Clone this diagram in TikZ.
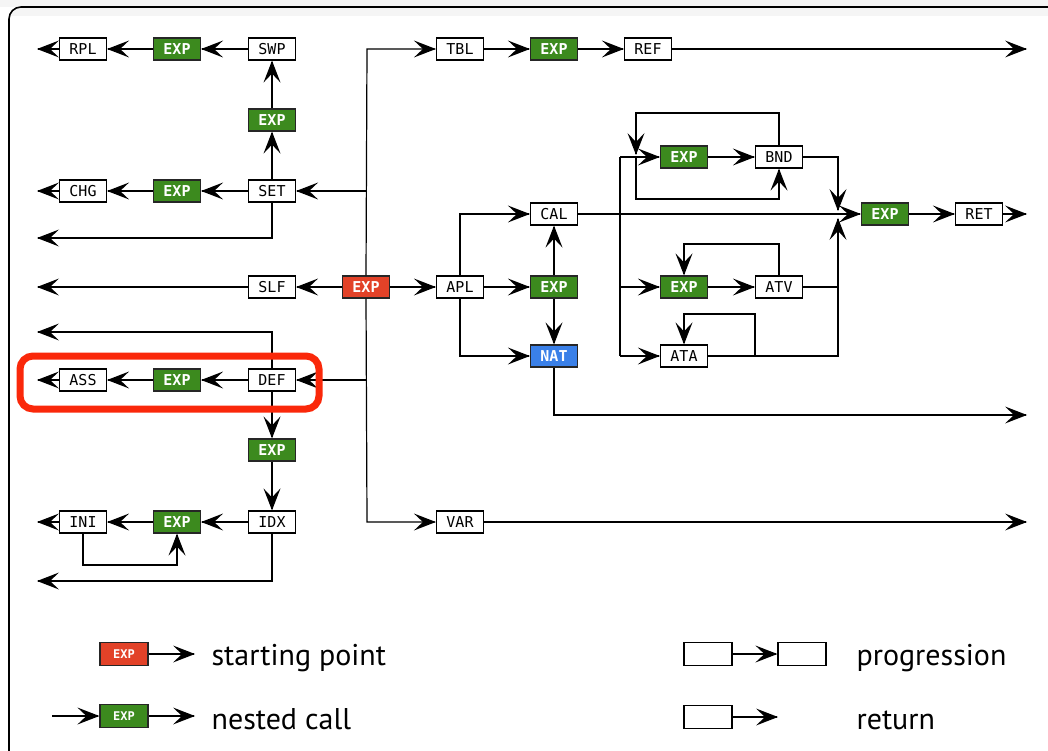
\documentclass[tikz,border=0pt]{standalone}
\usepackage{fontspec}
\usetikzlibrary{arrows.meta}
\newfontfamily\boxfont{DejaVu Sans Mono}
\newfontfamily\legfont{PT Sans}
\definecolor{expgreen}{RGB}{60,138,30}
\definecolor{expred}{RGB}{226,66,40}
\definecolor{expblue}{RGB}{58,128,232}
\definecolor{hlred}{RGB}{250,40,10}
\pgfarrowsdeclare{bighead}{bighead}
{\pgfarrowsleftextend{-21pt}\pgfarrowsrightextend{1pt}}
{\pgfsetdash{}{0pt}\pgfsetmiterjoin
 \pgfpathmoveto{\pgfpoint{1pt}{0pt}}
 \pgfpathlineto{\pgfpoint{-21pt}{8.5pt}}
 \pgfpathlineto{\pgfpoint{-12pt}{0pt}}
 \pgfpathlineto{\pgfpoint{-21pt}{-8.5pt}}
 \pgfpathclose
 \pgfusepathqfill}
\begin{document}
\begin{tikzpicture}[x=1pt,y=-1pt,
  arr/.style={-bighead},
  line width=1.2pt,
  fbox/.style={draw=black, fill=white, line width=1.2pt, minimum width=47pt,
    minimum height=22pt, inner sep=0pt, font=\boxfont\fontsize{15}{15}\selectfont},
  ebox/.style={fbox, fill=expgreen, draw=black!85, text=white,
    font=\boxfont\bfseries\fontsize{15}{15}\selectfont},
  rbox/.style={ebox, fill=expred},
  bbox/.style={ebox, fill=expblue},
  small/.style={minimum width=48pt, minimum height=23pt,
    font=\boxfont\bfseries\fontsize{12}{12}\selectfont},
  legtext/.style={anchor=base west, inner sep=0pt, font=\legfont\fontsize{30}{30}\selectfont},
]
\useasboundingbox (0,0) rectangle (1048,751);
% window frame
\fill[gray!8] (0,0) rectangle (1048,7);
\begin{scope}
  \clip[rounded corners=12pt] (9,7) rectangle (1070,765);
  \fill[gray!8] (0,0) rectangle (1048,16);
\end{scope}
\draw[line width=1.6pt, rounded corners=12pt] (9,7) rectangle (1070,765);

% ---------- nodes ----------
\node[fbox] (RPL) at (83,49) {RPL};
\node[ebox] (EXPa) at (177,49) {EXP};
\node[fbox] (SWP) at (272,49) {SWP};
\node[ebox] (EXPb) at (272,120) {EXP};
\node[fbox] (CHG) at (83,191) {CHG};
\node[ebox] (EXPc) at (177,191) {EXP};
\node[fbox] (SET) at (272,191) {SET};
\node[fbox] (SLF) at (272,287) {SLF};
\node[rbox] (EXPr) at (366,287) {EXP};
\node[fbox] (ASS) at (83,380) {ASS};
\node[ebox] (EXPd) at (177,380) {EXP};
\node[fbox] (DEF) at (272,380) {DEF};
\node[ebox] (EXPe) at (272,450) {EXP};
\node[fbox] (INI) at (83,522) {INI};
\node[ebox] (EXPf) at (177,522) {EXP};
\node[fbox] (IDX) at (272,522) {IDX};

\node[fbox] (TBL) at (460,49) {TBL};
\node[ebox] (EXPg) at (554,49) {EXP};
\node[fbox] (REF) at (648,49) {REF};
\node[fbox] (APL) at (460,287) {APL};
\node[ebox] (EXPh) at (554,287) {EXP};
\node[fbox] (CAL) at (554,214) {CAL};
\node[bbox] (NAT) at (554,356) {NAT};
\node[fbox] (VAR) at (460,522) {VAR};

\node[ebox] (EXPi) at (684,157) {EXP};
\node[fbox] (BND) at (779,157) {BND};
\node[ebox] (EXPj) at (684,287) {EXP};
\node[fbox] (ATV) at (779,287) {ATV};
\node[fbox] (ATA) at (684,356) {ATA};
\node[ebox] (EXPk) at (885,214) {EXP};
\node[fbox] (RET) at (979,214) {RET};

% ---------- coordinates ----------
\coordinate (T1) at (367,49);
\coordinate (T2) at (367,522);
\coordinate (TS) at (367,191);
\coordinate (TD) at (367,380);
\coordinate (L1) at (37,49);
\coordinate (L2) at (37,191);
\coordinate (L3) at (37,238);
\coordinate (L4) at (37,287);
\coordinate (L5) at (37,332);
\coordinate (L6) at (37,380);
\coordinate (L7) at (37,522);
\coordinate (L8) at (37,581);
\coordinate (B1) at (83,565);
\coordinate (R1) at (1027,49);
\coordinate (R2) at (1027,214);
\coordinate (R3) at (1027,415);
\coordinate (R4) at (1027,522);
\coordinate (A1) at (460,214);
\coordinate (A2) at (460,356);
\coordinate (J1) at (838,211);
\coordinate (J2) at (838,218);
\coordinate (J3) at (838,356);
\coordinate (J4) at (838,287);
\coordinate (K1) at (620,157);
\coordinate (K2) at (620,287);
\coordinate (K3) at (620,356);
\coordinate (P0) at (636,157);
\coordinate (P1) at (636,113);
\coordinate (P2) at (636,155);
\coordinate (P3) at (636,199);
\coordinate (Q1) at (684,244);
\coordinate (S0) at (755,356);
\coordinate (S1) at (684,314);

% ---------- main trunk ----------
\draw[arr] (EXPr.north) -- (T1) -- (TBL);
\draw[arr] (EXPr.south) -- (T2) -- (VAR);
\draw[arr] (TS) -- (SET);
\draw[arr] (TD) -- (DEF);
\draw[arr] (EXPr) -- (SLF);
\draw[arr] (SLF) -- (L4);
\draw[arr] (EXPr) -- (APL);

% ---------- left part ----------
\draw[arr] (SWP) -- (EXPa);
\draw[arr] (EXPa) -- (RPL);
\draw[arr] (RPL) -- (L1);
\draw[arr] (SET) -- (EXPb);
\draw[arr] (EXPb) -- (SWP);
\draw[arr] (SET) -- (EXPc);
\draw[arr] (EXPc) -- (CHG);
\draw[arr] (CHG) -- (L2);
\draw[arr] (SET.south) |- (L3);
\draw[arr] (DEF.north) |- (L5);
\draw[arr] (DEF) -- (EXPd);
\draw[arr] (EXPd) -- (ASS);
\draw[arr] (ASS) -- (L6);
\draw[arr] (DEF) -- (EXPe);
\draw[arr] (EXPe) -- (IDX);
\draw[arr] (IDX) -- (EXPf);
\draw[arr] (EXPf) -- (INI);
\draw[arr] (INI) -- (L7);
\draw[arr] (INI.south) -- (B1) -| (EXPf.south);
\draw[arr] (IDX.south) |- (L8);

% ---------- middle ----------
\draw[arr] (TBL) -- (EXPg);
\draw[arr] (EXPg) -- (REF);
\draw[arr] (REF) -- (R1);
\draw[arr] (APL) -- (EXPh);
\draw[arr] (EXPh) -- (CAL);
\draw[arr] (EXPh) -- (NAT);
\draw[arr] (APL.north) -- (A1) -- (CAL);
\draw[arr] (APL.south) -- (A2) -- (NAT);
\draw[arr] (NAT.south) |- (R3);
\draw[arr] (VAR) -- (R4);

% ---------- right ----------
\draw[arr] (CAL) -- (EXPk);
\draw[arr] (EXPk) -- (RET);
\draw[arr] (RET) -- (R2);
\draw (K1) -- (K3);
\draw[arr] (K1) -- (EXPi);
\draw[arr] (K2) -- (EXPj);
\draw[arr] (K3) -- (ATA);
\draw[arr] (EXPi) -- (BND);
\draw[arr] (EXPj) -- (ATV);
\draw[arr] (BND.east) -| (J1);
\draw[arr] (ATA.east) -- (J3) -- (J2);
\draw (ATV.east) -- (J4);
\draw[arr] (BND.north) |- (P1) -- (P2);
\draw[arr] (P0) -- (P3) -| (BND.south);
\draw[arr] (ATV.north) |- (Q1) -- (EXPj.north);
\draw[arr] (S0) |- (S1) -- (ATA.north);

% ---------- highlight ----------
\draw[hlred, line width=7pt, rounded corners=13pt] (20,356) rectangle (319,409);

% ---------- legend ----------
\node[rbox, small] (LR) at (124,654) {EXP};
\coordinate (LRa) at (195,654);
\draw[arr] (LR) -- (LRa);
\node[legtext] (LTs) at (211,665) {starting point};

\coordinate (LGi) at (52,716);
\node[ebox, small] (LG) at (124,716) {EXP};
\coordinate (LGa) at (195,716);
\draw[arr] (LGi) -- (LG);
\draw[arr] (LG) -- (LGa);
\node[legtext] (LTn) at (211,729) {nested call};

\node[fbox, minimum width=48pt, minimum height=23pt] (LP1) at (708,654) {};
\node[fbox, minimum width=48pt, minimum height=23pt] (LP2) at (802,654) {};
\draw[arr] (LP1) -- (LP2);
\node[legtext] (LTp) at (856,665) {progression};

\node[fbox, minimum width=48pt, minimum height=23pt] (LQ1) at (708,717) {};
\coordinate (LQa) at (778,717);
\draw[arr] (LQ1) -- (LQa);
\node[legtext] (LTr) at (856,729) {return};
\end{tikzpicture}
\end{document}
